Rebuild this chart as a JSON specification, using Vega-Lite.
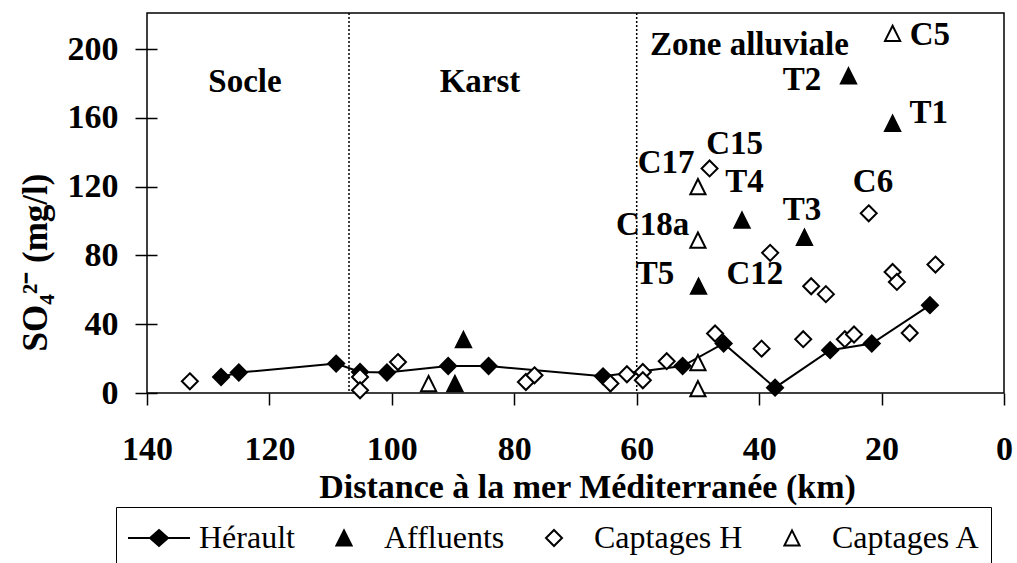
{
  "$schema": "https://vega.github.io/schema/vega-lite/v6.json",
  "width": 857,
  "height": 380,
  "autosize": {"type": "none"},
  "padding": {"left": 147, "top": 13, "right": 13, "bottom": 170},
  "background": "white",
  "config": {
    "view": {"stroke": "black", "strokeWidth": 1.5},
    "font": "Liberation Serif"
  },
  "datasets": {
    "pts": [
      {"serie": "Hérault", "km": 127.9, "so4": 9.3},
      {"serie": "Hérault", "km": 125.0, "so4": 11.9},
      {"serie": "Hérault", "km": 109.1, "so4": 17.1},
      {"serie": "Hérault", "km": 105.2, "so4": 12.2},
      {"serie": "Hérault", "km": 100.8, "so4": 11.9},
      {"serie": "Hérault", "km": 90.8, "so4": 15.7},
      {"serie": "Hérault", "km": 84.2, "so4": 15.7},
      {"serie": "Hérault", "km": 65.5, "so4": 9.7},
      {"serie": "Hérault", "km": 52.5, "so4": 15.7},
      {"serie": "Hérault", "km": 45.8, "so4": 28.8},
      {"serie": "Hérault", "km": 37.4, "so4": 3.1},
      {"serie": "Hérault", "km": 28.4, "so4": 24.9},
      {"serie": "Hérault", "km": 21.6, "so4": 28.8},
      {"serie": "Hérault", "km": 12.1, "so4": 51.1},
      {"serie": "Affluents", "km": 88.3, "so4": 31.0},
      {"serie": "Affluents", "km": 89.7, "so4": 5.5},
      {"serie": "Affluents", "km": 25.4, "so4": 184.4},
      {"serie": "Affluents", "km": 18.2, "so4": 156.8},
      {"serie": "Affluents", "km": 42.8, "so4": 100.5},
      {"serie": "Affluents", "km": 32.6, "so4": 90.5},
      {"serie": "Affluents", "km": 49.9, "so4": 62.1},
      {"serie": "Captages H", "km": 133.0, "so4": 6.8},
      {"serie": "Captages H", "km": 105.2, "so4": 9.3},
      {"serie": "Captages H", "km": 105.2, "so4": 1.6},
      {"serie": "Captages H", "km": 99.0, "so4": 18.0},
      {"serie": "Captages H", "km": 78.1, "so4": 6.4},
      {"serie": "Captages H", "km": 76.7, "so4": 10.3},
      {"serie": "Captages H", "km": 64.3, "so4": 5.5},
      {"serie": "Captages H", "km": 61.6, "so4": 10.9},
      {"serie": "Captages H", "km": 59.0, "so4": 12.2},
      {"serie": "Captages H", "km": 59.0, "so4": 7.4},
      {"serie": "Captages H", "km": 55.1, "so4": 18.5},
      {"serie": "Captages H", "km": 47.2, "so4": 34.6},
      {"serie": "Captages H", "km": 39.6, "so4": 25.8},
      {"serie": "Captages H", "km": 32.8, "so4": 31.3},
      {"serie": "Captages H", "km": 26.0, "so4": 31.3},
      {"serie": "Captages H", "km": 24.5, "so4": 34.0},
      {"serie": "Captages H", "km": 15.4, "so4": 34.9},
      {"serie": "Captages H", "km": 29.1, "so4": 57.5},
      {"serie": "Captages H", "km": 31.5, "so4": 62.1},
      {"serie": "Captages H", "km": 38.2, "so4": 81.5},
      {"serie": "Captages H", "km": 48.1, "so4": 130.6},
      {"serie": "Captages H", "km": 22.1, "so4": 104.5},
      {"serie": "Captages H", "km": 18.2, "so4": 70.4},
      {"serie": "Captages H", "km": 17.5, "so4": 64.6},
      {"serie": "Captages H", "km": 11.2, "so4": 74.7},
      {"serie": "Captages A", "km": 94.0, "so4": 5.5},
      {"serie": "Captages A", "km": 50.0, "so4": 17.7},
      {"serie": "Captages A", "km": 50.0, "so4": 2.5},
      {"serie": "Captages A", "km": 18.2, "so4": 209.2},
      {"serie": "Captages A", "km": 50.0, "so4": 120.0},
      {"serie": "Captages A", "km": 50.0, "so4": 88.9}
    ],
    "labels": [
      {"label": "Socle", "km": 124.0, "so4": 180.9},
      {"label": "Karst", "km": 85.6, "so4": 180.9},
      {"label": "Zone alluviale", "km": 41.6, "so4": 202.4},
      {"label": "C5", "km": 12.1, "so4": 208.3},
      {"label": "T2", "km": 33.0, "so4": 182.1},
      {"label": "T1", "km": 12.3, "so4": 162.8},
      {"label": "C15", "km": 44.0, "so4": 144.8},
      {"label": "C17", "km": 55.2, "so4": 134.0},
      {"label": "T4", "km": 42.4, "so4": 123.0},
      {"label": "C6", "km": 21.4, "so4": 123.0},
      {"label": "T3", "km": 33.0, "so4": 106.4},
      {"label": "C18a", "km": 57.4, "so4": 97.6},
      {"label": "T5", "km": 57.0, "so4": 69.1},
      {"label": "C12", "km": 40.7, "so4": 69.1}
    ],
    "zones": [
      {"km": 107},
      {"km": 60}
    ]
  },
  "resolve": {"scale": {"shape": "independent", "fill": "independent", "stroke": "independent"}},
  "layer": [
    {
      "data": {"name": "zones"},
      "mark": {"type": "rule", "stroke": "black", "strokeWidth": 1.5, "strokeDash": [2, 2]},
      "encoding": {
        "x": {"field": "km", "type": "quantitative", "scale": {"domain": [0, 140], "reverse": true, "nice": false, "zero": false}}
      }
    },
    {
      "data": {"name": "pts"},
      "transform": [{"filter": "datum.serie === 'Hérault'"}],
      "mark": {"type": "line", "stroke": "black", "strokeWidth": 2},
      "encoding": {
        "x": {"field": "km", "type": "quantitative", "scale": {"domain": [0, 140], "reverse": true, "nice": false, "zero": false}},
        "y": {"field": "so4", "type": "quantitative", "scale": {"domain": [0, 221], "nice": false}}
      }
    },
    {
      "data": {"name": "pts"},
      "transform": [{"filter": "datum.serie === 'Hérault'"}],
      "mark": {"type": "point", "shape": "diamond", "filled": true, "fill": "black", "stroke": "black", "strokeWidth": 2, "size": 256, "opacity": 1},
      "encoding": {
        "x": {
          "field": "km", "type": "quantitative",
          "scale": {"domain": [0, 140], "reverse": true, "nice": false, "zero": false},
          "axis": {
            "values": [0, 20, 40, 60, 80, 100, 120, 140],
            "title": "Distance à la mer Méditerranée (km)",
            "titleFont": "Liberation Serif", "titleFontSize": 34, "titleFontWeight": "bold", "titleColor": "black",
            "titleX": 440, "titleY": 104, "titleBaseline": "alphabetic", "titleAlign": "center",
            "labelFlush": false, "labelOverlap": false, "domain": false, "grid": false,
            "tickSize": 12, "tickColor": "black", "tickWidth": 1.5,
            "labelPadding": 27, "labelFont": "Liberation Serif", "labelFontSize": 34, "labelFontWeight": "bold", "labelColor": "black"
          }
        },
        "y": {
          "field": "so4", "type": "quantitative",
          "scale": {"domain": [0, 221], "nice": false},
          "axis": {
            "values": [0, 40, 80, 120, 160, 200],
            "title": "SO₄²⁻ (mg/l)",
            "titleFont": "Liberation Serif", "titleFontSize": 35, "titleFontWeight": "bold", "titleColor": "black",
            "titleX": -122, "titleY": 249, "titleAngle": 270, "titleBaseline": "middle", "titleAlign": "center",
            "offset": -10, "tickSize": 22, "tickColor": "black", "tickWidth": 1.5,
            "domain": false, "grid": false, "labelFlush": false, "labelOverlap": false,
            "labelPadding": 17, "labelFont": "Liberation Serif", "labelFontSize": 34, "labelFontWeight": "bold", "labelColor": "black"
          }
        }
      }
    },
    {
      "data": {"name": "pts"},
      "transform": [{"filter": "datum.serie !== 'Hérault'"}],
      "mark": {"type": "point", "filled": true, "strokeWidth": 2, "size": 1600, "opacity": 1},
      "encoding": {
        "x": {"field": "km", "type": "quantitative", "scale": {"domain": [0, 140], "reverse": true, "nice": false, "zero": false}},
        "y": {"field": "so4", "type": "quantitative", "scale": {"domain": [0, 221], "nice": false}},
        "shape": {
          "field": "serie", "type": "nominal",
          "scale": {
            "domain": ["Hérault", "Affluents", "Captages H", "Captages A"],
            "range": [
              "M-1.55,0H-0.45M0.45,0H1.55M0,-0.4L0.45,0L0,0.4L-0.45,0Z",
              "M0,-0.38L0.38,0.38L-0.38,0.38Z",
              "M0,-0.4L0.4,0L0,0.4L-0.4,0Z",
              "M0,-0.38L0.38,0.38L-0.38,0.38Z"
            ]
          },
          "legend": {
            "orient": "none", "legendX": -31, "legendY": 494, "direction": "horizontal", "title": null,
            "padding": 10, "strokeColor": "black",
            "labelFont": "Liberation Serif", "labelFontSize": 32, "labelColor": "black", "labelFontWeight": "normal", "labelLimit": 400,
            "symbolSize": 1600, "symbolOffset": 12, "labelOffset": 19, "columnPadding": 16,
            "symbolStrokeWidth": 2, "symbolStrokeColor": "black", "symbolOpacity": 1
          }
        },
        "fill": {
          "field": "serie", "type": "nominal",
          "scale": {"domain": ["Hérault", "Affluents", "Captages H", "Captages A"], "range": ["black", "black", "white", "white"]}
        },
        "stroke": {
          "field": "serie", "type": "nominal",
          "scale": {"domain": ["Hérault", "Affluents", "Captages H", "Captages A"], "range": ["black", "black", "black", "black"]}
        }
      }
    },
    {
      "data": {"name": "labels"},
      "mark": {"type": "text", "font": "Liberation Serif", "fontSize": 33, "fontWeight": "bold", "color": "black", "align": "center", "baseline": "middle"},
      "encoding": {
        "x": {"field": "km", "type": "quantitative", "scale": {"domain": [0, 140], "reverse": true, "nice": false, "zero": false}},
        "y": {"field": "so4", "type": "quantitative", "scale": {"domain": [0, 221], "nice": false}},
        "text": {"field": "label", "type": "nominal"}
      }
    }
  ]
}
